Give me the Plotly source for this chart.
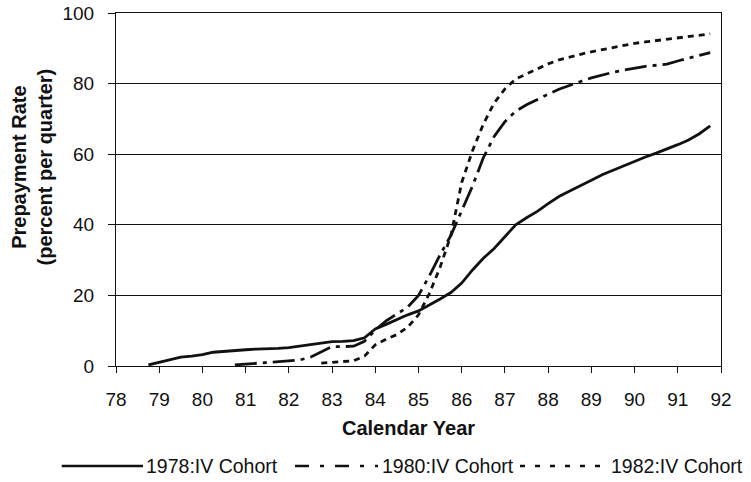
import plotly.graph_objects as go

# Quarterly prepayment rates (percent per quarter)
start_1978 = 78.75
rate_1978 = [0.3, 1.0, 1.8, 2.5, 2.8, 3.2, 3.9, 4.2, 4.4, 4.6, 4.8, 4.8, 5.0,
             5.2, 5.6, 6.0, 6.5, 6.9, 7.0, 7.2, 8.0, 10.5, 11.8, 13.2, 14.5,
             15.6, 17.2, 19.0, 20.8, 23.5, 27.2, 30.5, 33.3, 36.8, 40.0, 42.0,
             43.8, 46.0, 48.0, 49.6, 51.0, 52.6, 54.2, 55.5, 56.8, 58.0, 59.2,
             60.3, 61.4, 62.7, 64.0, 65.8, 68.0]

start_1980 = 80.75
rate_1980 = [0.3, 0.5, 0.7, 0.9, 1.2, 1.4, 1.7, 2.5, 4.0, 5.5, 5.5, 5.6, 7.0,
             10.2, 12.8, 14.8, 16.7, 20.0, 25.5, 31.5, 37.0, 44.0, 51.0, 59.0,
             65.0, 69.2, 72.2, 74.0, 75.6, 77.0, 78.4, 79.6, 80.6, 81.6, 82.5,
             83.2, 83.8, 84.4, 84.9, 85.2, 85.5, 86.4, 87.3, 88.0, 88.8]

start_1982 = 82.75
rate_1982 = [0.8, 1.1, 1.2, 1.5, 2.8, 6.0, 7.6, 8.9, 11.0, 14.5, 20.5, 28.0,
             37.0, 52.0, 61.0, 68.5, 74.5, 78.5, 81.3, 82.8, 84.2, 85.6, 86.7,
             87.6, 88.3, 89.0, 89.6, 90.3, 90.9, 91.4, 91.8, 92.2, 92.6, 93.0,
             93.4, 93.8, 94.1]

series_names = ["1978:IV Cohort", "1980:IV Cohort", "1982:IV Cohort"]
x_ticks = list(range(78, 93))
y_ticks = [0, 20, 40, 60, 80, 100]


def quarters(start, n):
    return [start + 0.25 * i for i in range(n)]


FONT = "Liberation Sans, Arial, Helvetica, sans-serif"
INK = "#111111"
dash_styles = ["solid", "22px,6px,4px,6px", "6px,5px"]
legend_dash = ["solid", "14px,11px,4px,11px", "5px,10px"]

fig = go.Figure()
for name, start, vals, dash in zip(series_names,
                                   [start_1978, start_1980, start_1982],
                                   [rate_1978, rate_1980, rate_1982],
                                   dash_styles):
    fig.add_trace(go.Scatter(x=quarters(start, len(vals)), y=vals, mode="lines",
                             name=name, line=dict(color=INK, width=2.8, dash=dash),
                             showlegend=False))

# Page geometry (page body margin removed below, so figure = page)
W, H = 751, 482
PL, PR, PT, PB = 116, 721, 13, 366      # plot area in pixels
L, T, R, B = PL, PT, W - PR, H - PB
pw = PR - PL
ph = PB - PT


def px_x(p):
    return (p - PL) / pw


def px_y(p):
    return (PB - p) / ph


legend_items = [(61.7, 143, 144), (295, 378, 380), (520, 610, 609)]
legend_y = 466
shapes = []
annotations = []
for (x0, x1, tx), name, dash in zip(legend_items, series_names, legend_dash):
    shapes.append(dict(type="line", xref="paper", yref="paper",
                       x0=px_x(x0), x1=px_x(x1), y0=px_y(legend_y), y1=px_y(legend_y),
                       line=dict(color=INK, width=2.4, dash=dash)))
    annotations.append(dict(text=name, xref="paper", yref="paper",
                            x=px_x(tx), y=px_y(legend_y), xanchor="left",
                            yanchor="middle", showarrow=False,
                            font=dict(size=19.5, color=INK, family=FONT)))

annotations.append(dict(text="<b>Calendar Year</b>", xref="paper", yref="paper",
                        x=px_x(408), y=px_y(428), xanchor="center", yanchor="middle",
                        showarrow=False, font=dict(size=20, color=INK, family=FONT)))
annotations.append(dict(text="<b>Prepayment Rate<br>(percent per quarter)</b>",
                        xref="paper", yref="paper", x=px_x(31.5), y=px_y(167),
                        xanchor="center", yanchor="middle", textangle=-90,
                        showarrow=False, font=dict(size=20, color=INK, family=FONT)))

fig.update_layout(
    width=W, height=H,
    margin=dict(l=L, r=R, t=T, b=B, pad=0, autoexpand=False),
    paper_bgcolor="white", plot_bgcolor="white",
    font=dict(family=FONT, color=INK, size=19),
    shapes=shapes, annotations=annotations, showlegend=False,
    xaxis=dict(range=[78, 92], tickvals=x_ticks, ticktext=[str(v) for v in x_ticks],
               ticks="outside", ticklen=6, tickwidth=1, tickcolor=INK,
               showline=True, linecolor=INK, linewidth=1, mirror=True,
               showgrid=False, zeroline=False, ticklabelstandoff=10,
               automargin=False, ticklabeloverflow="allow",
               tickfont=dict(size=19, family=FONT, color=INK)),
    yaxis=dict(range=[0, 100], tickvals=y_ticks,
               ticks="outside", ticklen=7,
               tickwidth=1, tickcolor=INK, showline=True, linecolor=INK,
               linewidth=1, mirror=True, showgrid=True, gridcolor=INK,
               gridwidth=1, zeroline=False, ticklabelstandoff=10,
               automargin=False, ticklabeloverflow="allow",
               tickfont=dict(size=19, family=FONT, color=INK)),
)

fig.write_html("out.html",
               config={"displayModeBar": False},
               post_script="document.body.style.margin='0';")
